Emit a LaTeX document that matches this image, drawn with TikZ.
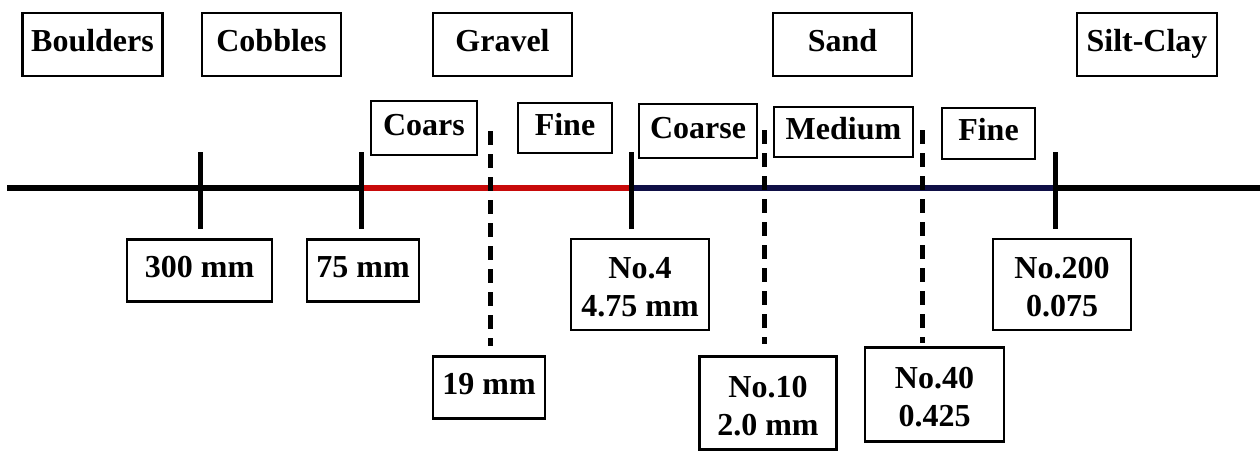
\documentclass[tikz,border=0pt]{standalone}
\usepackage{fontspec}
\setmainfont{Liberation Serif}
\definecolor{gravelred}{RGB}{200,10,10}
\definecolor{sandnavy}{RGB}{15,15,70}
\newcommand{\topstrut}{\rule{0pt}{27pt}}
\begin{document}
\begin{tikzpicture}[x=1pt,y=-1pt,
  lbl/.style={draw=black,line width=2.5pt,fill=white,inner sep=0pt,align=center,
    font=\fontsize{32}{38}\selectfont\bfseries},
  one/.style={lbl,text height=21pt,text depth=7pt},
  tick/.style={line width=5pt,black},
  dtick/.style={line width=5pt,black,dash pattern=on 14pt off 9pt},
  axis/.style={line width=6pt,black}]
\useasboundingbox (0,0) rectangle (1260,451);
% top classes
\node[one,minimum width=140pt,minimum height=63pt] (boulders) at (92.5,44.3) {Boulders};
\node[one,minimum width=139pt,minimum height=63pt] (cobbles) at (271.5,44.3) {Cobbles};
\node[one,minimum width=139pt,minimum height=63pt] (gravel) at (502.5,44.3) {Gravel};
\node[one,minimum width=139pt,minimum height=63pt] (sand) at (842.5,44.3) {Sand};
\node[one,minimum width=140pt,minimum height=63pt] (siltclay) at (1147,44.3) {Silt-Clay};
% sub classes
\node[one,minimum width=106pt,minimum height=54pt] (coars) at (424,128) {Coars};
\node[one,minimum width=94pt,minimum height=50pt] (gfine) at (565,128) {Fine};
\node[one,minimum width=118pt,minimum height=54pt] (scoarse) at (698,131) {Coarse};
\node[one,minimum width=139pt,minimum height=50pt] (smedium) at (843.5,132) {Medium};
\node[one,minimum width=93pt,minimum height=51pt] (sfine) at (988.5,133.5) {Fine};
% axis
\coordinate (axL) at (7,188);
\coordinate (axR) at (1260,188);
\coordinate (a75) at (361,188);
\coordinate (a4) at (631,188);
\coordinate (a200) at (1055,188);
\draw[axis] (axL) -- (axR);
\draw[line width=6pt,gravelred] (a75) -- (a4);
\draw[line width=6pt,sandnavy] (a4) -- (a200);
% size labels
\node[one,minimum width=145pt,minimum height=62pt] (s300) at (199.5,270.5) {300 mm};
\node[one,minimum width=112pt,minimum height=62pt] (s75) at (363,270.5) {75 mm};
\node[one,minimum width=112pt,minimum height=62pt] (s19) at (489,387.5) {19 mm};
\node[lbl,minimum width=138pt,minimum height=91pt] (s4) at (640,284.5) {\topstrut No.4\\4.75 mm};
\node[lbl,minimum width=137pt,minimum height=93pt] (s10) at (768,403) {\topstrut No.10\\2.0 mm};
\node[lbl,minimum width=139pt,minimum height=94pt] (s40) at (934.5,394.5) {\topstrut No.40\\0.425};
\node[lbl,minimum width=138pt,minimum height=91pt] (s200) at (1062,284.5) {\topstrut No.200\\0.075};
% tick ends
\coordinate (t300a) at (200,152);  \coordinate (t300b) at (200,229);
\coordinate (t75a) at (361,152);   \coordinate (t75b) at (361,229);
\coordinate (t4a) at (631,152);    \coordinate (t4b) at (631,229);
\coordinate (t200a) at (1055,152); \coordinate (t200b) at (1055,229);
\coordinate (t19a) at (490,131);   \coordinate (t19b) at (490,346);
\coordinate (t10a) at (764,130);   \coordinate (t10b) at (764,344);
\coordinate (t40a) at (922,130);   \coordinate (t40b) at (922,343);
\draw[tick] (t300a) -- (t300b);
\draw[tick] (t75a) -- (t75b);
\draw[tick] (t4a) -- (t4b);
\draw[tick] (t200a) -- (t200b);
\draw[dtick] (t19a) -- (t19b);
\draw[dtick] (t10a) -- (t10b);
\draw[dtick] (t40a) -- (t40b);
\end{tikzpicture}
\end{document}
